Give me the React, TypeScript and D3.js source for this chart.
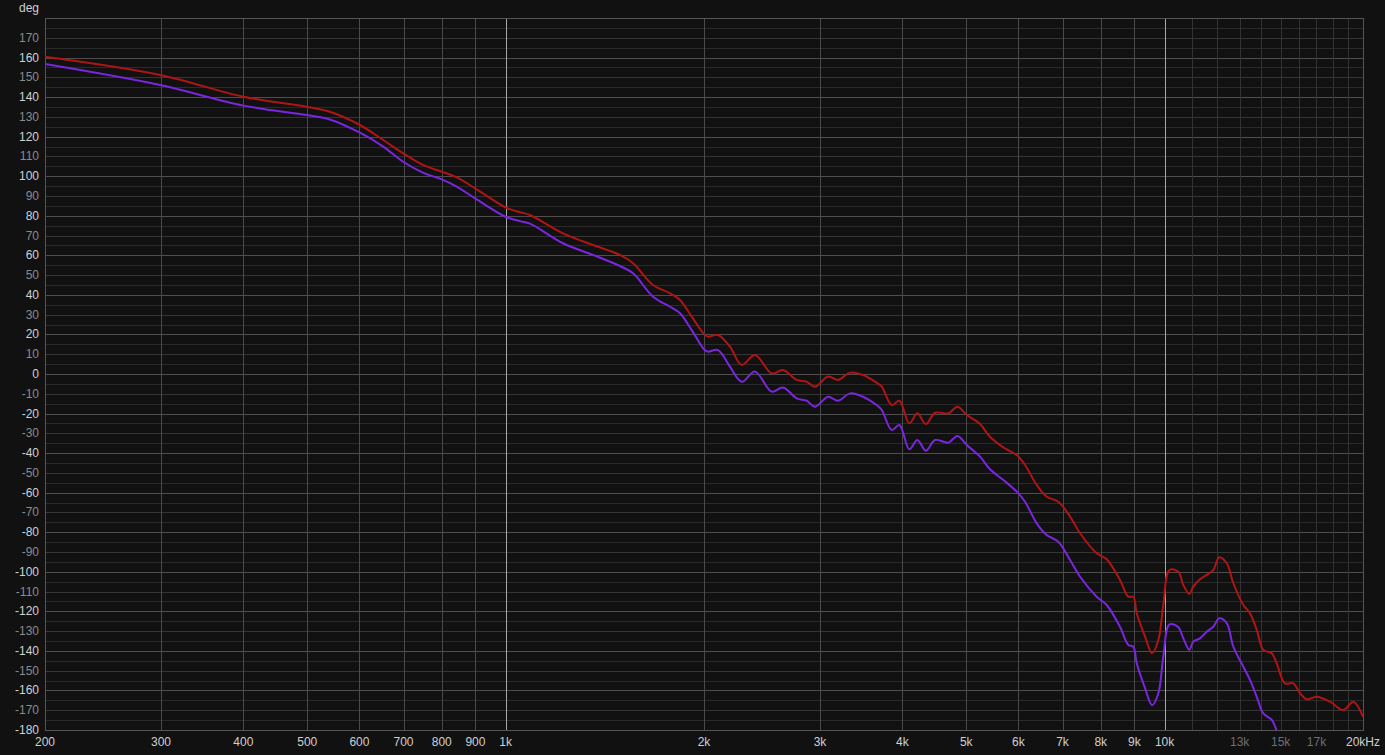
import React from "react";
import * as d3 from "d3";

const freqs = [200, 299, 400, 499, 541, 601, 652, 699, 749, 800, 843, 899, 1000, 1052, 1089, 1222, 1357, 1491, 1561, 1674, 1776, 1839, 1916, 2000, 2028, 2100, 2190, 2282, 2390, 2534, 2636, 2765, 2862, 2948, 3086, 3194, 3332, 3486, 3656, 3722, 3854, 3958, 4098, 4215, 4341, 4484, 4698, 4849, 5009, 5247, 5433, 5692, 5965, 6140, 6396, 6622, 6896, 7186, 7442, 7887, 8168, 8556, 8810, 8964, 9072, 9340, 9571, 9784, 9954, 10172, 10490, 10676, 10902, 11054, 11316, 11582, 11852, 12104, 12424, 12714, 13166, 13476, 13796, 14118, 14540, 14792, 15228, 15676, 16050, 16430, 17012, 17822, 18670, 19334, 20000];

const redDeg = [160.4, 151.2, 140.2, 135.1, 132.6, 125.9, 118.3, 111.6, 105.7, 102.3, 99.4, 93.9, 84.2, 81.8, 80.4, 71.1, 65.2, 60.2, 56.0, 45.0, 40.8, 37.4, 29.0, 20.2, 18.9, 19.7, 13.8, 4.6, 9.6, 0.3, 2.0, -3.0, -3.9, -6.4, -1.3, -3.0, 0.7, -0.5, -4.4, -6.4, -15.7, -13.5, -24.9, -19.9, -25.3, -19.6, -19.9, -16.5, -20.7, -25.3, -31.7, -37.1, -41.0, -46.0, -56.1, -62.0, -64.6, -72.1, -80.5, -90.6, -93.7, -104.1, -112.6, -112.6, -121.0, -132.8, -141.2, -134.5, -116.8, -99.1, -100.0, -106.7, -111.2, -107.5, -103.8, -101.6, -99.1, -92.7, -95.7, -105.8, -116.8, -121.0, -129.4, -139.5, -141.2, -146.3, -156.4, -156.4, -161.4, -164.5, -163.2, -165.7, -169.9, -165.7, -173.3];

const purpleDeg = [156.7, 146.1, 135.7, 130.9, 128.7, 122.0, 115.0, 107.3, 101.8, 98.4, 94.7, 88.8, 79.5, 77.3, 76.0, 66.1, 60.2, 54.6, 50.9, 39.1, 34.0, 30.7, 22.2, 12.5, 11.3, 12.1, 3.7, -3.9, 1.2, -8.9, -6.8, -12.3, -13.5, -16.5, -11.5, -13.5, -9.8, -11.5, -15.7, -18.2, -28.3, -25.8, -38.1, -33.4, -38.8, -33.4, -34.7, -31.3, -35.9, -41.8, -48.2, -53.6, -59.5, -64.6, -75.5, -81.4, -84.8, -94.0, -102.5, -112.6, -116.8, -127.8, -137.0, -137.9, -146.3, -158.9, -167.5, -161.4, -142.9, -126.6, -128.0, -133.7, -139.5, -135.3, -133.7, -130.3, -127.8, -123.5, -126.0, -137.9, -148.0, -154.7, -163.2, -171.6, -174.9, -180.5, NaN, NaN, NaN, NaN, NaN, NaN, NaN, NaN, NaN];

const yTicks = [170, 160, 150, 140, 130, 120, 110, 100, 90, 80, 70, 60, 50, 40, 30, 20, 10, 0, -10, -20, -30, -40, -50, -60, -70, -80, -90, -100, -110, -120, -130, -140, -150, -160, -170, -180];
const xTickVals = [200, 300, 400, 500, 600, 700, 800, 900, 1000, 2000, 3000, 4000, 5000, 6000, 7000, 8000, 9000, 10000, 13000, 15000, 17000, 20000];
const xTickLabels = ["200", "300", "400", "500", "600", "700", "800", "900", "1k", "2k", "3k", "4k", "5k", "6k", "7k", "8k", "9k", "10k", "13k", "15k", "17k", "20kHz"];
const dimXLabels = ["13k", "15k", "17k"];
const gridFreqs = [300, 400, 500, 600, 700, 800, 900, 2000, 3000, 4000, 5000, 6000, 7000, 8000, 9000];
const fineGridFreqs = [11000, 12000, 13000, 14000, 15000, 16000, 17000, 18000, 19000];
const brightFreqs = [1000, 10000];

const W = 1385, H = 755;
const L = 45, R = 1363, T = 18, B = 730;

export default function App() {
  const x = d3.scaleLog().domain([200, 20000]).range([L, R]);
  const y = d3.scaleLinear().domain([-180, 180]).range([B, T]);
  const hLines = d3.range(-175, 180, 5);

  const mk = (vals: number[]) =>
    d3
      .line<number>()
      .defined((d) => !isNaN(d))
      .x((_, i) => x(freqs[i]))
      .y((d) => y(d))
      .curve(d3.curveCatmullRom.alpha(0.5))(vals) || "";

  const font = "'Liberation Sans', Arial, sans-serif";

  return (
    <div style={{ position: "fixed", left: 0, top: 0, width: W, height: H, background: "#111" }}>
      <svg width={W} height={H} style={{ display: "block" }}>
        <rect x={0} y={0} width={W} height={H} fill="#111111" />
        <defs>
          <clipPath id="plot">
            <rect x={L} y={T} width={R - L} height={B - T} />
          </clipPath>
        </defs>
        {hLines.map((v) => (
          <line
            key={"h" + v}
            x1={L}
            x2={R}
            y1={Math.round(y(v)) + 0.5}
            y2={Math.round(y(v)) + 0.5}
            stroke={v % 20 === 0 ? "#4e4e4e" : v % 10 === 0 ? "#353535" : "#2a2a2a"}
            strokeWidth={1}
          />
        ))}
        {fineGridFreqs.map((f) => (
          <line key={"f" + f} x1={Math.round(x(f)) + 0.5} x2={Math.round(x(f)) + 0.5} y1={T} y2={B} stroke="#333" />
        ))}
        {gridFreqs.map((f) => (
          <line key={"g" + f} x1={Math.round(x(f)) + 0.5} x2={Math.round(x(f)) + 0.5} y1={T} y2={B} stroke="#4a4a4a" />
        ))}
        {brightFreqs.map((f) => (
          <line key={"b" + f} x1={Math.round(x(f)) + 0.5} x2={Math.round(x(f)) + 0.5} y1={T} y2={B} stroke="#a8a8a8" />
        ))}
        <rect x={L + 0.5} y={T + 0.5} width={R - L} height={B - T} fill="none" stroke="#555" />
        <g clipPath="url(#plot)">
          <path d={mk(redDeg)} fill="none" stroke="#b01414" strokeWidth={2} strokeLinejoin="round" />
          <path d={mk(purpleDeg)} fill="none" stroke="#7a26e0" strokeWidth={2} strokeLinejoin="round" />
        </g>
        {yTicks.map((v) => (
          <text
            key={"yt" + v}
            x={39}
            y={y(v)}
            textAnchor="end"
            dominantBaseline="central"
            fontFamily={font}
            fontSize={12}
            fill={v % 20 === 0 ? "#d0d0d0" : "#8a8a8a"}
          >
            {v}
          </text>
        ))}
        {xTickVals.map((f, i) => (
          <text
            key={"xt" + f}
            x={x(f)}
            y={742}
            textAnchor="middle"
            dominantBaseline="central"
            fontFamily={font}
            fontSize={12}
            fill={dimXLabels.includes(xTickLabels[i]) ? "#707070" : "#d0d0d0"}
          >
            {xTickLabels[i]}
          </text>
        ))}
        <text x={39} y={8} textAnchor="end" dominantBaseline="central" fontFamily={font} fontSize={12} fill="#d0d0d0">
          deg
        </text>
      </svg>
    </div>
  );
}
